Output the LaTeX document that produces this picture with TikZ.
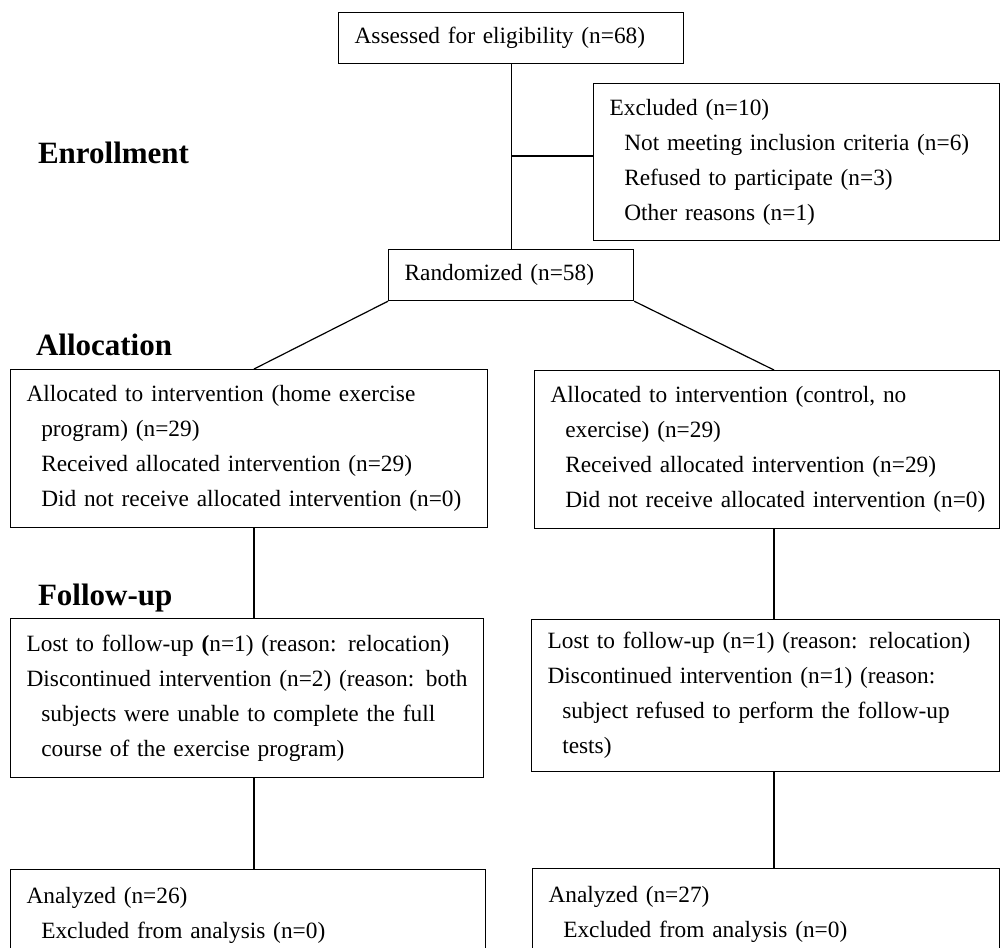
\documentclass[tikz,border=0pt]{standalone}
\usepackage{fontspec}
\setmainfont{Liberation Serif}
\newcommand{\ind}{\hspace*{11pt}}

\begin{document}
\begin{tikzpicture}
  [x=0.75pt,y=-0.75pt,line width=0.9pt,
   box/.style={draw,anchor=north west,align=left,inner xsep=12pt,inner ysep=0pt,
     font=\fontsize{17.5}{26.25}\selectfont},
   stage/.style={anchor=base west,font=\fontsize{23.25}{28}\selectfont\bfseries}]

  \useasboundingbox (0,0) rectangle (1000,947);

  \node[stage] (S1) at (33,163) {Enrollment};
  \node[stage] (S2) at (31,355) {Allocation};
  \node[stage] (S3) at (33,605) {Follow-up};

  \node[box,text width=234.75pt,minimum height=38.25pt] (A) at (338,12)
    {Assessed for eligibility (n=68)};
  \node[box,text width=280.5pt,minimum height=117.75pt] (B) at (593,83)
    {Excluded (n=10)\\\ind Not meeting inclusion criteria (n=6)\\\ind Refused to participate (n=3)\\\ind Other reasons (n=1)};
  \node[box,text width=159.75pt,minimum height=38.25pt] (C) at (388,249)
    {Randomized (n=58)};
  \node[box,text width=333.75pt,minimum height=118.5pt] (D) at (10,369)
    {Allocated to intervention (home exercise\\\ind program) (n=29)\\\ind Received allocated intervention (n=29)\\\ind Did not receive allocated intervention (n=0)};
  \node[box,text width=324.75pt,minimum height=118.5pt] (E) at (534,370)
    {Allocated to intervention (control, no\\\ind exercise) (n=29)\\\ind Received allocated intervention (n=29)\\\ind \mbox{Did not receive allocated intervention (n=0)}};
  \node[box,text width=330.75pt,minimum height=119.25pt] (F) at (10,618)
    {Lost to follow-up \textbf{(}n=1) (reason: relocation)\\Discontinued intervention (n=2) (reason: both\\\ind subjects were unable to complete the full\\\ind course of the exercise program)};
  \node[box,text width=327pt,minimum height=114pt] (G) at (531,619)
    {Lost to follow-up (n=1) (reason: relocation)\\Discontinued intervention (n=1) (reason:\\\ind subject refused to perform the follow-up\\\ind tests)};
  \node[box,text width=332.25pt,minimum height=68.25pt] (H) at (10,869)
    {Analyzed (n=26)\\\ind Excluded from analysis (n=0)};
  \node[box,text width=326.25pt,minimum height=68.25pt] (I) at (532,868)
    {Analyzed (n=27)\\\ind Excluded from analysis (n=0)};

  \coordinate (M) at (511,156);
  \coordinate (L) at (254,0);
  \coordinate (R) at (774,0);

  \draw (A.south) -- (C.north);
  \draw (M) -- (M -| B.west);
  \draw (C.south west) -- (D.north -| L);
  \draw (C.south east) -- (E.north -| R);
  \foreach \from/\to/\col in {D/F/L,F/H/L,E/G/R,G/I/R}
    \draw (\from.south -| \col) -- (\to.north -| \col);

\end{tikzpicture}
\end{document}
